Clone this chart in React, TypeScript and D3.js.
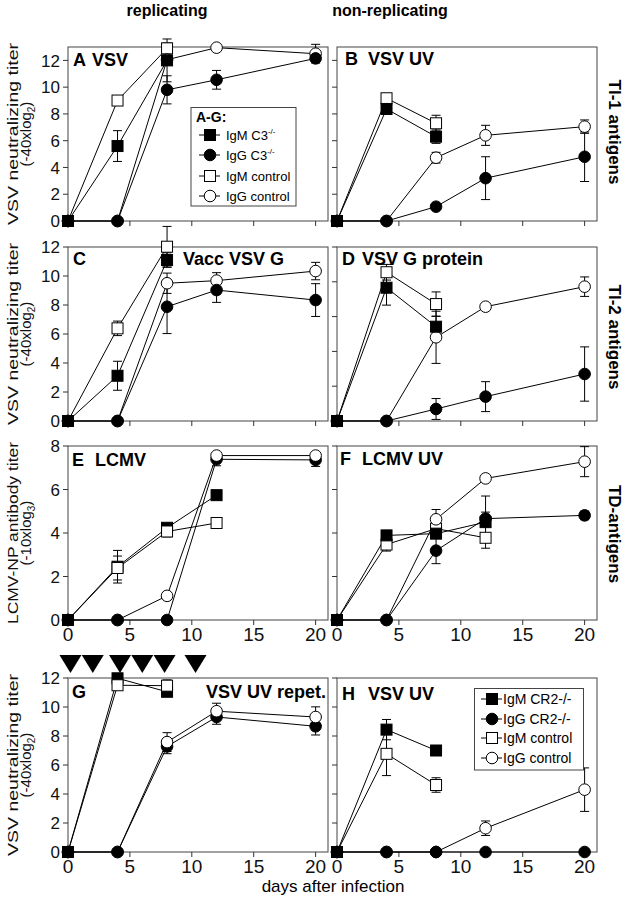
import React from 'react';
import * as d3 from 'd3';

type Pt = [number, number, number]; // [day, titer, error]
type Kind = 'igmCtl' | 'iggCtl' | 'igmKO' | 'iggKO';

const DAY_TICKS = [0, 5, 10, 15, 20];

// ---- Panel A: VSV (replicating, TI-1)
const A_igmCtl: Pt[] = [[0, 0, 0], [4, 9.0, 0.3], [8, 12.9, 0.4]];
const A_iggCtl: Pt[] = [[0, 0, 0], [4, 0, 0], [8, 12.05, 0.3], [12, 12.95, 0], [20, 12.5, 0.7]];
const A_igmKO: Pt[] = [[0, 0, 0], [4, 5.6, 1.15], [8, 12.0, 1.6]];
const A_iggKO: Pt[] = [[0, 0, 0], [4, 0, 0], [8, 9.8, 1.05], [12, 10.55, 0.7], [20, 12.15, 0.2]];

// ---- Panel B: VSV UV
const B_igmCtl: Pt[] = [[0, 0, 0], [4, 9.17, 0.25], [8, 7.3, 0.6]];
const B_iggCtl: Pt[] = [[0, 0, 0], [4, 0, 0], [8, 4.73, 0.4], [12, 6.4, 0.75], [20, 7.05, 0.5]];
const B_igmKO: Pt[] = [[0, 0, 0], [4, 8.37, 0.2], [8, 6.3, 0.5]];
const B_iggKO: Pt[] = [[0, 0, 0], [4, 0, 0], [8, 1.07, 0], [12, 3.2, 1.6], [20, 4.8, 1.85]];

// ---- Panel C: Vacc VSV G
const C_igmCtl: Pt[] = [[0, 0, 0], [4, 6.39, 0.5], [8, 12.02, 1.4]];
const C_iggCtl: Pt[] = [[0, 0, 0], [4, 0, 0], [8, 9.5, 0.7], [12, 9.68, 0.55], [20, 10.34, 0.6]];
const C_igmKO: Pt[] = [[0, 0, 0], [4, 3.12, 1.0], [8, 11.1, 0.5]];
const C_iggKO: Pt[] = [[0, 0, 0], [4, 0, 0], [8, 7.88, 1.85], [12, 9.03, 0.85], [20, 8.34, 1.13]];

// ---- Panel D: VSV G protein
const D_igmCtl: Pt[] = [[0, 0, 0], [4, 8.55, 0.45], [8, 6.72, 0.7]];
const D_iggCtl: Pt[] = [[0, 0, 0], [4, 0, 0], [8, 4.81, 1.5], [12, 6.57, 0], [20, 7.72, 0.56]];
const D_igmKO: Pt[] = [[0, 0, 0], [4, 7.66, 1.0], [8, 5.42, 0.6]];
const D_iggKO: Pt[] = [[0, 0, 0], [4, 0, 0], [8, 0.69, 0.6], [12, 1.4, 0.86], [20, 2.7, 1.56]];

// ---- Panel E: LCMV
const E_igmCtl: Pt[] = [[0, 0, 0], [4, 2.39, 0.55], [8, 4.07, 0.25], [12, 4.46, 0]];
const E_iggCtl: Pt[] = [[0, 0, 0], [4, 0, 0], [8, 1.11, 0], [12, 7.56, 0], [20, 7.56, 0]];
const E_igmKO: Pt[] = [[0, 0, 0], [4, 2.45, 0.75], [8, 4.24, 0.2], [12, 5.74, 0]];
const E_iggKO: Pt[] = [[0, 0, 0], [4, 0, 0], [8, 0, 0], [12, 7.39, 0.3], [20, 7.36, 0.3]];

// ---- Panel F: LCMV UV
const F_igmCtl: Pt[] = [[0, 0, 0], [4, 3.47, 0.3], [8, 4.2, 0.3], [12, 3.78, 0]];
const F_iggCtl: Pt[] = [[0, 0, 0], [4, 0, 0], [8, 4.63, 0.45], [12, 6.51, 0], [20, 7.28, 0.69]];
const F_igmKO: Pt[] = [[0, 0, 0], [4, 3.89, 0.2], [8, 3.97, 0.2], [12, 4.5, 1.2]];
const F_iggKO: Pt[] = [[0, 0, 0], [4, 0, 0], [8, 3.19, 0.6], [12, 4.66, 0.3], [20, 4.81, 0.2]];

// ---- Panel G: VSV UV repeated
const G_igmCtl: Pt[] = [[0, 0, 0], [4, 11.5, 0.3], [8, 11.47, 0.4]];
const G_iggCtl: Pt[] = [[0, 0, 0], [4, 0, 0], [8, 7.58, 0.65], [12, 9.71, 0.55], [20, 9.31, 0.7]];
const G_igmKO: Pt[] = [[0, 0, 0], [4, 11.98, 0], [8, 11.05, 0.2]];
const G_iggKO: Pt[] = [[0, 0, 0], [4, 0, 0], [8, 7.28, 0.5], [12, 9.31, 0.5], [20, 8.67, 0.6]];
const G_injectionDays = [0.2, 2, 4.2, 6, 7.8, 10.3];

// ---- Panel H: VSV UV in CR2-/-
const H_igmCtl: Pt[] = [[0, 0, 0], [4, 6.77, 1.5], [8, 4.62, 0.5]];
const H_iggCtl: Pt[] = [[0, 0, 0], [4, 0, 0], [8, 0, 0], [12, 1.64, 0.5], [20, 4.3, 1.5]];
const H_igmKO: Pt[] = [[0, 0, 0], [4, 8.44, 0.7], [8, 7.0, 0]];
const H_iggKO: Pt[] = [[0, 0, 0], [4, 0, 0], [8, 0, 0], [12, 0, 0], [20, 0, 0]];

const LEGEND_KINDS: Kind[] = ['igmKO', 'iggKO', 'igmCtl', 'iggCtl'];
const LEGEND_AG_NAMES = ['IgM C3', 'IgG C3', 'IgM control', 'IgG control'];
const LEGEND_AG_SUP = ['-/-', '-/-', '', ''];
const LEGEND_H_NAMES = ['IgM CR2-/-', 'IgG CR2-/-', 'IgM control', 'IgG control'];

const ROW_LABELS = ['TI-1 antigens', 'TI-2 antigens', 'TD-antigens'];

// ---- layout
const FONT = 'Liberation Sans, Arial, Helvetica, sans-serif';
const COL_X = [68, 337];
const ROW_Y = [47, 247, 446, 678];
const PW = 260;
const PH = 174;
const X_MAX = 21;

interface PanelDef {
  letter: string;
  name: string;
  col: number;
  row: number;
  yMax: number;
  tickMax: number;
  series: Record<Kind, Pt[]>;
  order: Kind[];
  nameX: number;
  letterX: number;
  nameAnchor?: 'start' | 'end';
  baseline: number;
}

const DEFAULT_ORDER: Kind[] = ['igmCtl', 'iggCtl', 'igmKO', 'iggKO'];
const OPEN_TOP_ORDER: Kind[] = ['igmKO', 'iggKO', 'igmCtl', 'iggCtl'];

const PANELS: PanelDef[] = [
  { letter: 'A', name: 'VSV', col: 0, row: 0, yMax: 13, tickMax: 12, series: { igmCtl: A_igmCtl, iggCtl: A_iggCtl, igmKO: A_igmKO, iggKO: A_iggKO }, order: DEFAULT_ORDER, letterX: 73, nameX: 92, baseline: 66 },
  { letter: 'B', name: 'VSV UV', col: 1, row: 0, yMax: 13, tickMax: 12, series: { igmCtl: B_igmCtl, iggCtl: B_iggCtl, igmKO: B_igmKO, iggKO: B_iggKO }, order: DEFAULT_ORDER, letterX: 345, nameX: 368, baseline: 65 },
  { letter: 'C', name: 'Vacc VSV G', col: 0, row: 1, yMax: 12, tickMax: 12, series: { igmCtl: C_igmCtl, iggCtl: C_iggCtl, igmKO: C_igmKO, iggKO: C_iggKO }, order: DEFAULT_ORDER, letterX: 73, nameX: 183, baseline: 265 },
  { letter: 'D', name: 'VSV G protein', col: 1, row: 1, yMax: 10, tickMax: 10, series: { igmCtl: D_igmCtl, iggCtl: D_iggCtl, igmKO: D_igmKO, iggKO: D_iggKO }, order: DEFAULT_ORDER, letterX: 342, nameX: 362, baseline: 265 },
  { letter: 'E', name: 'LCMV', col: 0, row: 2, yMax: 8, tickMax: 8, series: { igmCtl: E_igmCtl, iggCtl: E_iggCtl, igmKO: E_igmKO, iggKO: E_iggKO }, order: OPEN_TOP_ORDER, letterX: 72, nameX: 95, baseline: 466 },
  { letter: 'F', name: 'LCMV UV', col: 1, row: 2, yMax: 8, tickMax: 8, series: { igmCtl: F_igmCtl, iggCtl: F_iggCtl, igmKO: F_igmKO, iggKO: F_iggKO }, order: DEFAULT_ORDER, letterX: 340, nameX: 362, baseline: 465 },
  { letter: 'G', name: 'VSV UV repet.', col: 0, row: 3, yMax: 12, tickMax: 12, series: { igmCtl: G_igmCtl, iggCtl: G_iggCtl, igmKO: G_igmKO, iggKO: G_iggKO }, order: OPEN_TOP_ORDER, letterX: 72, nameX: 326, nameAnchor: 'end', baseline: 698 },
  { letter: 'H', name: 'VSV UV', col: 1, row: 3, yMax: 12, tickMax: 12, series: { igmCtl: H_igmCtl, iggCtl: H_iggCtl, igmKO: H_igmKO, iggKO: H_iggKO }, order: DEFAULT_ORDER, letterX: 342, nameX: 368, baseline: 700 },
];

function Marker({ kind, x, y }: { kind: Kind; x: number; y: number }) {
  const filled = kind === 'igmKO' || kind === 'iggKO';
  const square = kind === 'igmKO' || kind === 'igmCtl';
  const fill = filled ? '#000' : '#fff';
  if (square) {
    return <rect x={x - 5.5} y={y - 5.5} width={11} height={11} fill={fill} stroke="#000" strokeWidth={1} />;
  }
  return <circle cx={x} cy={y} r={5.8} fill={fill} stroke="#000" strokeWidth={1} />;
}

function Panel({ p }: { p: PanelDef }) {
  const x0 = COL_X[p.col];
  const y0 = ROW_Y[p.row];
  const xs = d3.scaleLinear().domain([0, X_MAX]).range([x0, x0 + PW]);
  const ys = d3.scaleLinear().domain([0, p.yMax]).range([y0 + PH, y0]);
  const line = d3.line<Pt>().x((d) => xs(d[0])).y((d) => ys(d[1]));
  const yTicks = d3.range(0, p.tickMax + 0.001, 2);
  const showXLabels = p.row >= 2;
  const showYLabels = p.col === 0;

  const raised: JSX.Element[] = [];
  p.order.forEach((k) => {
    p.series[k].forEach((d, i) => {
      if (d[1] !== 0) raised.push(<Marker key={`${k}-${i}`} kind={k} x={xs(d[0])} y={ys(d[1])} />);
    });
  });
  // baseline (zero-titer) markers: filled symbols on top
  const zeroOrder: Kind[] = ['iggCtl', 'igmCtl', 'iggKO', 'igmKO'];
  const zeroMarkers: JSX.Element[] = [];
  zeroOrder.forEach((k) => {
    p.series[k].forEach((d, i) => {
      if (d[1] === 0) zeroMarkers.push(<Marker key={`z-${k}-${i}`} kind={k} x={xs(d[0])} y={ys(d[1])} />);
    });
  });

  return (
    <g>
      <rect x={x0} y={y0} width={PW} height={PH} fill="none" stroke="#555" strokeWidth={1.1} />
      {yTicks.map((t) => (
        <g key={`yt${t}`}>
          <line x1={x0 - 5} x2={x0} y1={ys(t)} y2={ys(t)} stroke="#333" strokeWidth={1} />
          {showYLabels && (
            <text x={x0 - 8} y={ys(t)} dy="0.36em" textAnchor="end" fontSize={17} fontFamily={FONT} fill="#111">
              {t}
            </text>
          )}
        </g>
      ))}
      {DAY_TICKS.map((t) => (
        <g key={`xt${t}`}>
          <line x1={xs(t)} x2={xs(t)} y1={y0 + PH} y2={y0 + PH + 5} stroke="#333" strokeWidth={1} />
          {showXLabels && (
            <text x={xs(t)} y={y0 + PH + 21} textAnchor="middle" fontSize={19} fontFamily={FONT} fill="#111">
              {t}
            </text>
          )}
        </g>
      ))}
      <text x={p.letterX} y={p.baseline} fontSize={18} fontWeight="bold" fontFamily={FONT}>
        {p.letter}
      </text>
      <text x={p.nameX} y={p.baseline} fontSize={18} fontWeight="bold" fontFamily={FONT} textAnchor={p.nameAnchor || 'start'}>
        {p.name}
      </text>
      {p.order.map((k) => (
        <path key={`l-${k}`} d={line(p.series[k]) || ''} fill="none" stroke="#000" strokeWidth={1} />
      ))}
      {p.order.map((k) =>
        p.series[k]
          .filter((d) => d[2] > 0)
          .map((d, i) => {
            const cx = xs(d[0]);
            const yt = ys(d[1] + d[2]);
            const yb = ys(d[1] - d[2]);
            return (
              <g key={`e-${k}-${i}`} stroke="#000" strokeWidth={1}>
                <line x1={cx} x2={cx} y1={yt} y2={yb} />
                <line x1={cx - 4.5} x2={cx + 4.5} y1={yt} y2={yt} />
                <line x1={cx - 4.5} x2={cx + 4.5} y1={yb} y2={yb} />
              </g>
            );
          })
      )}
      {raised}
      {zeroMarkers}
      {p.letter === 'G' &&
        G_injectionDays.map((d, i) => {
          const cx = xs(d);
          const top = y0 - 23;
          return <path key={`tri${i}`} d={`M${cx - 11},${top} L${cx + 11},${top} L${cx},${top + 18} Z`} fill="#000" />;
        })}
    </g>
  );
}

function LegendSymbol({ kind, x, y }: { kind: Kind; x: number; y: number }) {
  return (
    <g>
      <line x1={x - 11} x2={x + 10} y1={y} y2={y} stroke="#000" strokeWidth={1} />
      <Marker kind={kind} x={x} y={y} />
    </g>
  );
}

function YLabel({ cy, line1, base, sub }: { cy: number; line1: string; base: string; sub: string }) {
  return (
    <g fontFamily={FONT} fill="#111">
      <text transform={`translate(18,${cy}) rotate(-90)`} textAnchor="middle" fontSize={15} textLength={182} lengthAdjust="spacingAndGlyphs">
        {line1}
      </text>
      <text transform={`translate(31,${cy}) rotate(-90)`} textAnchor="middle" fontSize={15}>
        {base}
        <tspan fontSize={10} dy={4}>{sub}</tspan>
        <tspan dy={-4}>)</tspan>
      </text>
    </g>
  );
}

export default function App() {
  const legAY = [135, 155, 176, 196];
  const legHY = [699, 719, 738, 758];
  return (
    <svg width={629} height={899} style={{ position: 'absolute', left: 0, top: 0, background: '#fff' }} fontFamily={FONT}>
      <rect x={0} y={0} width={629} height={899} fill="#fff" />
      <text x={167} y={16} textAnchor="middle" fontSize={16} fontWeight="bold">replicating</text>
      <text x={390} y={16} textAnchor="middle" fontSize={16} fontWeight="bold">non-replicating</text>

      {PANELS.map((p) => (
        <Panel key={p.letter} p={p} />
      ))}

      <rect x={191} y={107.5} width={105} height={98.5} fill="#fff" stroke="#444" strokeWidth={1} />
      <text x={196} y={122} fontSize={14} fontWeight="bold">A-G:</text>
      {LEGEND_KINDS.map((k, i) => (
        <g key={`la${k}`}>
          <LegendSymbol kind={k} x={210} y={legAY[i]} />
          <text x={226} y={legAY[i]} dy="0.36em" fontSize={13}>
            {LEGEND_AG_NAMES[i]}
            {LEGEND_AG_SUP[i] && (
              <tspan fontSize={8} dy={-6}>{LEGEND_AG_SUP[i]}</tspan>
            )}
          </text>
        </g>
      ))}

      <rect x={474.5} y={688.5} width={109} height={81.5} fill="#fff" stroke="#444" strokeWidth={1} />
      {LEGEND_KINDS.map((k, i) => (
        <g key={`lh${k}`}>
          <LegendSymbol kind={k} x={492} y={legHY[i]} />
          <text x={503} y={legHY[i]} dy="0.36em" fontSize={14}>
            {LEGEND_H_NAMES[i]}
          </text>
        </g>
      ))}

      <YLabel cy={134} line1="VSV neutralizing titer" base="(-40xlog" sub="2" />
      <YLabel cy={334} line1="VSV neutralizing titer" base="(-40xlog" sub="2" />
      <YLabel cy={533} line1="LCMV-NP antibody titer" base="(-10xlog" sub="3" />
      <YLabel cy={765} line1="VSV neutralizing titer" base="(-40xlog" sub="2" />

      {ROW_LABELS.map((t, i) => (
        <text key={t} transform={`translate(609,${[132, 337, 534][i]}) rotate(90)`} textAnchor="middle" fontSize={17} fontWeight="bold">
          {t}
        </text>
      ))}

      <text x={333} y={892} textAnchor="middle" fontSize={17}>days after infection</text>
    </svg>
  );
}
